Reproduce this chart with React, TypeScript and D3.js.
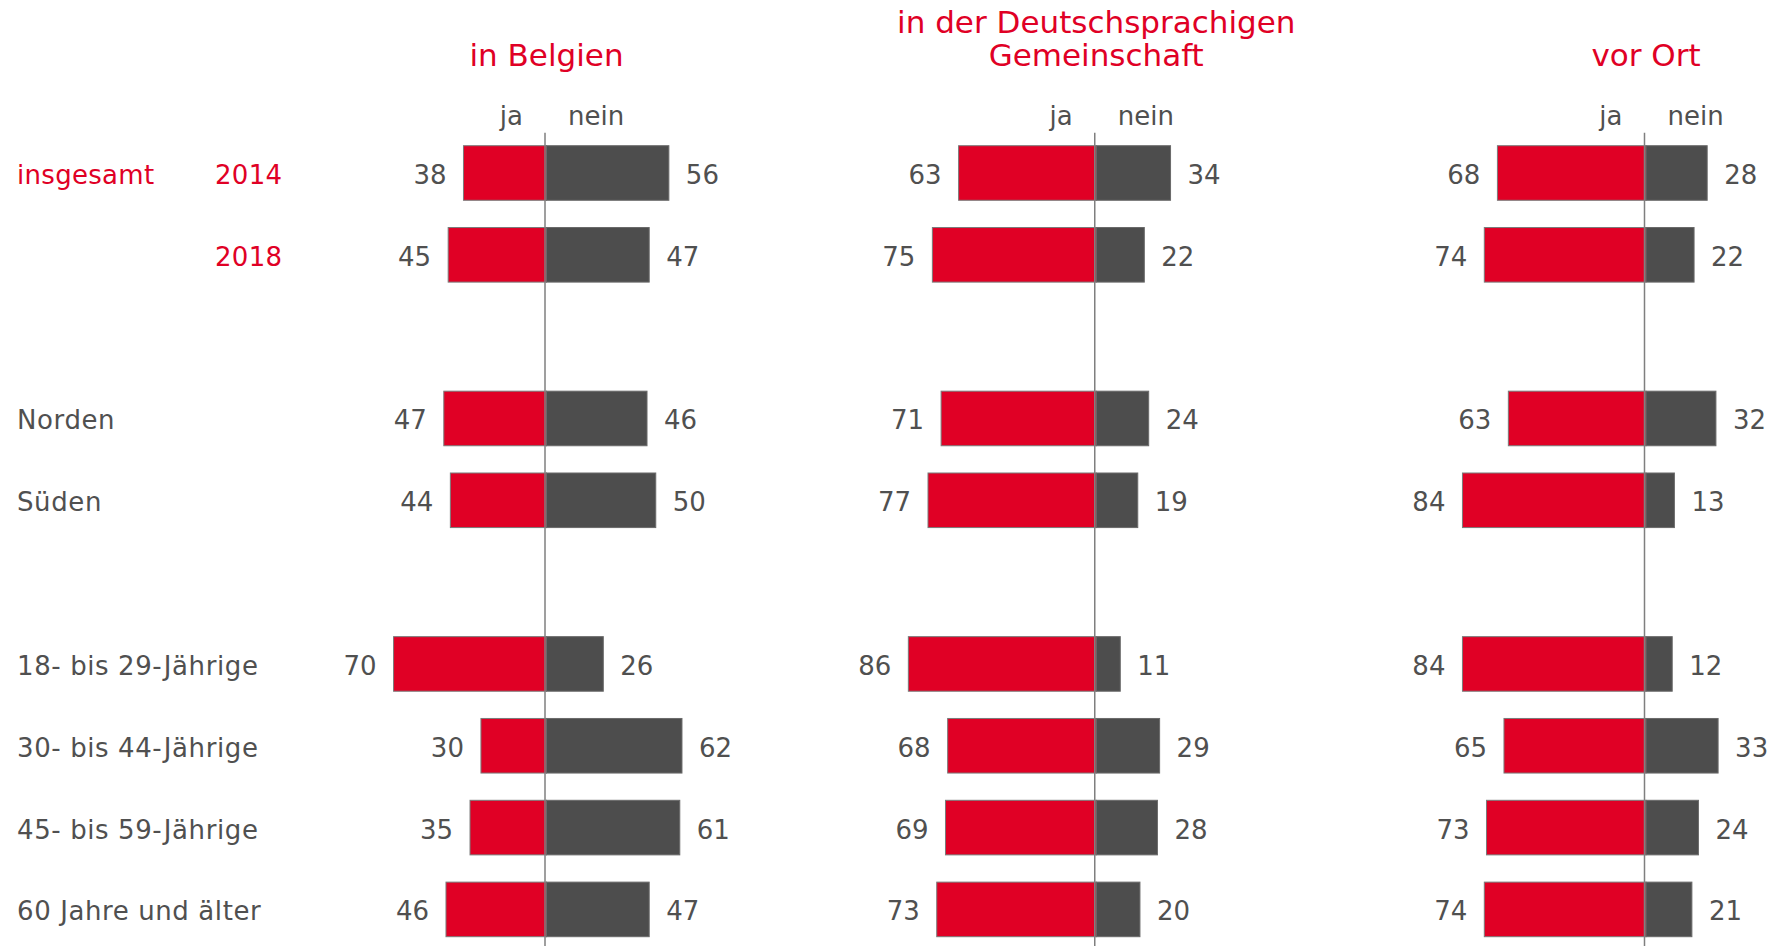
import * as d3 from 'd3';
import React from 'react';

// rows (gaps keep the empty slots between groups)
const slots = ['2014', '2018', 'gap1', 'Norden', 'Süden', 'gap2', '18-29', '30-44', '45-59', '60+'];
const rows = ['2014', '2018', 'Norden', 'Süden', '18-29', '30-44', '45-59', '60+'];
const rowLabels = ['', '', 'Norden', 'Süden', '18- bis 29-Jährige', '30- bis 44-Jährige', '45- bis 59-Jährige', '60 Jahre und älter'];
const yearLabels = ['2014', '2018'];

const panelTitles = [['in Belgien'], ['in der Deutschsprachigen', 'Gemeinschaft'], ['vor Ort']];

const belgienJa = [38, 45, 47, 44, 70, 30, 35, 46];
const belgienNein = [56, 47, 46, 50, 26, 62, 61, 47];
const dgJa = [63, 75, 71, 77, 86, 68, 69, 73];
const dgNein = [34, 22, 24, 19, 11, 29, 28, 20];
const ortJa = [68, 74, 63, 84, 84, 65, 73, 74];
const ortNein = [28, 22, 32, 13, 12, 33, 24, 21];

const RED = '#e00025';
const DARK = '#4d4d4d';
const TEXT = '#505050';
const FONT = '"DejaVu Sans", Verdana, sans-serif';

const W = 1782;
const H = 946;

const App = () => {
  const panels = [
    { ja: belgienJa, nein: belgienNein, title: panelTitles[0] },
    { ja: dgJa, nein: dgNein, title: panelTitles[1] },
    { ja: ortJa, nein: ortNein, title: panelTitles[2] },
  ];

  // vertical bands
  const y = d3.scaleBand().domain(slots).range([145.7, 936.7]).paddingInner(0.333).paddingOuter(0);
  // panel zero positions
  const px = d3.scalePoint().domain(['0', '1', '2']).range([546.5, 1646]);
  // length of a bar per percent
  const len = d3.scaleLinear().domain([0, 100]).range([0, 218.5]);
  const base = (r) => y(r) + y.bandwidth() / 2 + 11;

  return (
    <div style={{ position: 'absolute', left: 0, top: 0 }}>
      <svg width={W} height={H} style={{ display: 'block', fontFamily: FONT }}>
        <rect width={W} height={H} fill="#fff" />

        {/* row labels */}
        {rows.map((r, i) => (
          <g key={r}>
            {rowLabels[i] && (
              <text x={17} y={base(r)} fontSize={26} letterSpacing={0.6} fill={TEXT}>{rowLabels[i]}</text>
            )}
            {i < 2 && (
              <text x={215} y={base(r)} fontSize={26} letterSpacing={0.3} fill={RED}>{yearLabels[i]}</text>
            )}
          </g>
        ))}
        <text x={17} y={base('2014')} fontSize={26} letterSpacing={0.3} fill={RED}>insgesamt</text>

        {panels.map((p, pi) => {
          const zero = px(String(pi));
          const lineX = zero - 1.5;
          return (
            <g key={pi}>
              {/* title */}
              {p.title.map((t, ti) => (
                <text
                  key={t}
                  x={zero}
                  y={66 - (p.title.length - 1 - ti) * 33.5}
                  textAnchor="middle"
                  fontSize={31}
                  fill={RED}
                >
                  {t}
                </text>
              ))}
              <text x={lineX - 22} y={125} textAnchor="end" fontSize={26} fill={TEXT}>ja</text>
              <text x={lineX + 23} y={125} fontSize={26} fill={TEXT}>nein</text>

              {rows.map((r, i) => {
                const top = y(r);
                const wJa = len(p.ja[i]);
                const wNein = len(p.nein[i]);
                return (
                  <g key={r}>
                    <rect x={zero - wJa} y={top} width={wJa} height={y.bandwidth()} fill={RED} stroke="#7a7a7a" strokeWidth={1} />
                    <rect x={zero} y={top} width={wNein} height={y.bandwidth()} fill={DARK} stroke="#6a6a6a" strokeWidth={1} />
                    <text x={zero - wJa - 17} y={base(r)} textAnchor="end" fontSize={26} fill={TEXT}>{p.ja[i]}</text>
                    <text x={zero + wNein + 17} y={base(r)} fontSize={26} fill={TEXT}>{p.nein[i]}</text>
                  </g>
                );
              })}

              <line x1={lineX} x2={lineX} y1={132.7} y2={H} stroke="#7f7f7f" strokeWidth={1.5} />
            </g>
          );
        })}
      </svg>
    </div>
  );
};

export default App;
